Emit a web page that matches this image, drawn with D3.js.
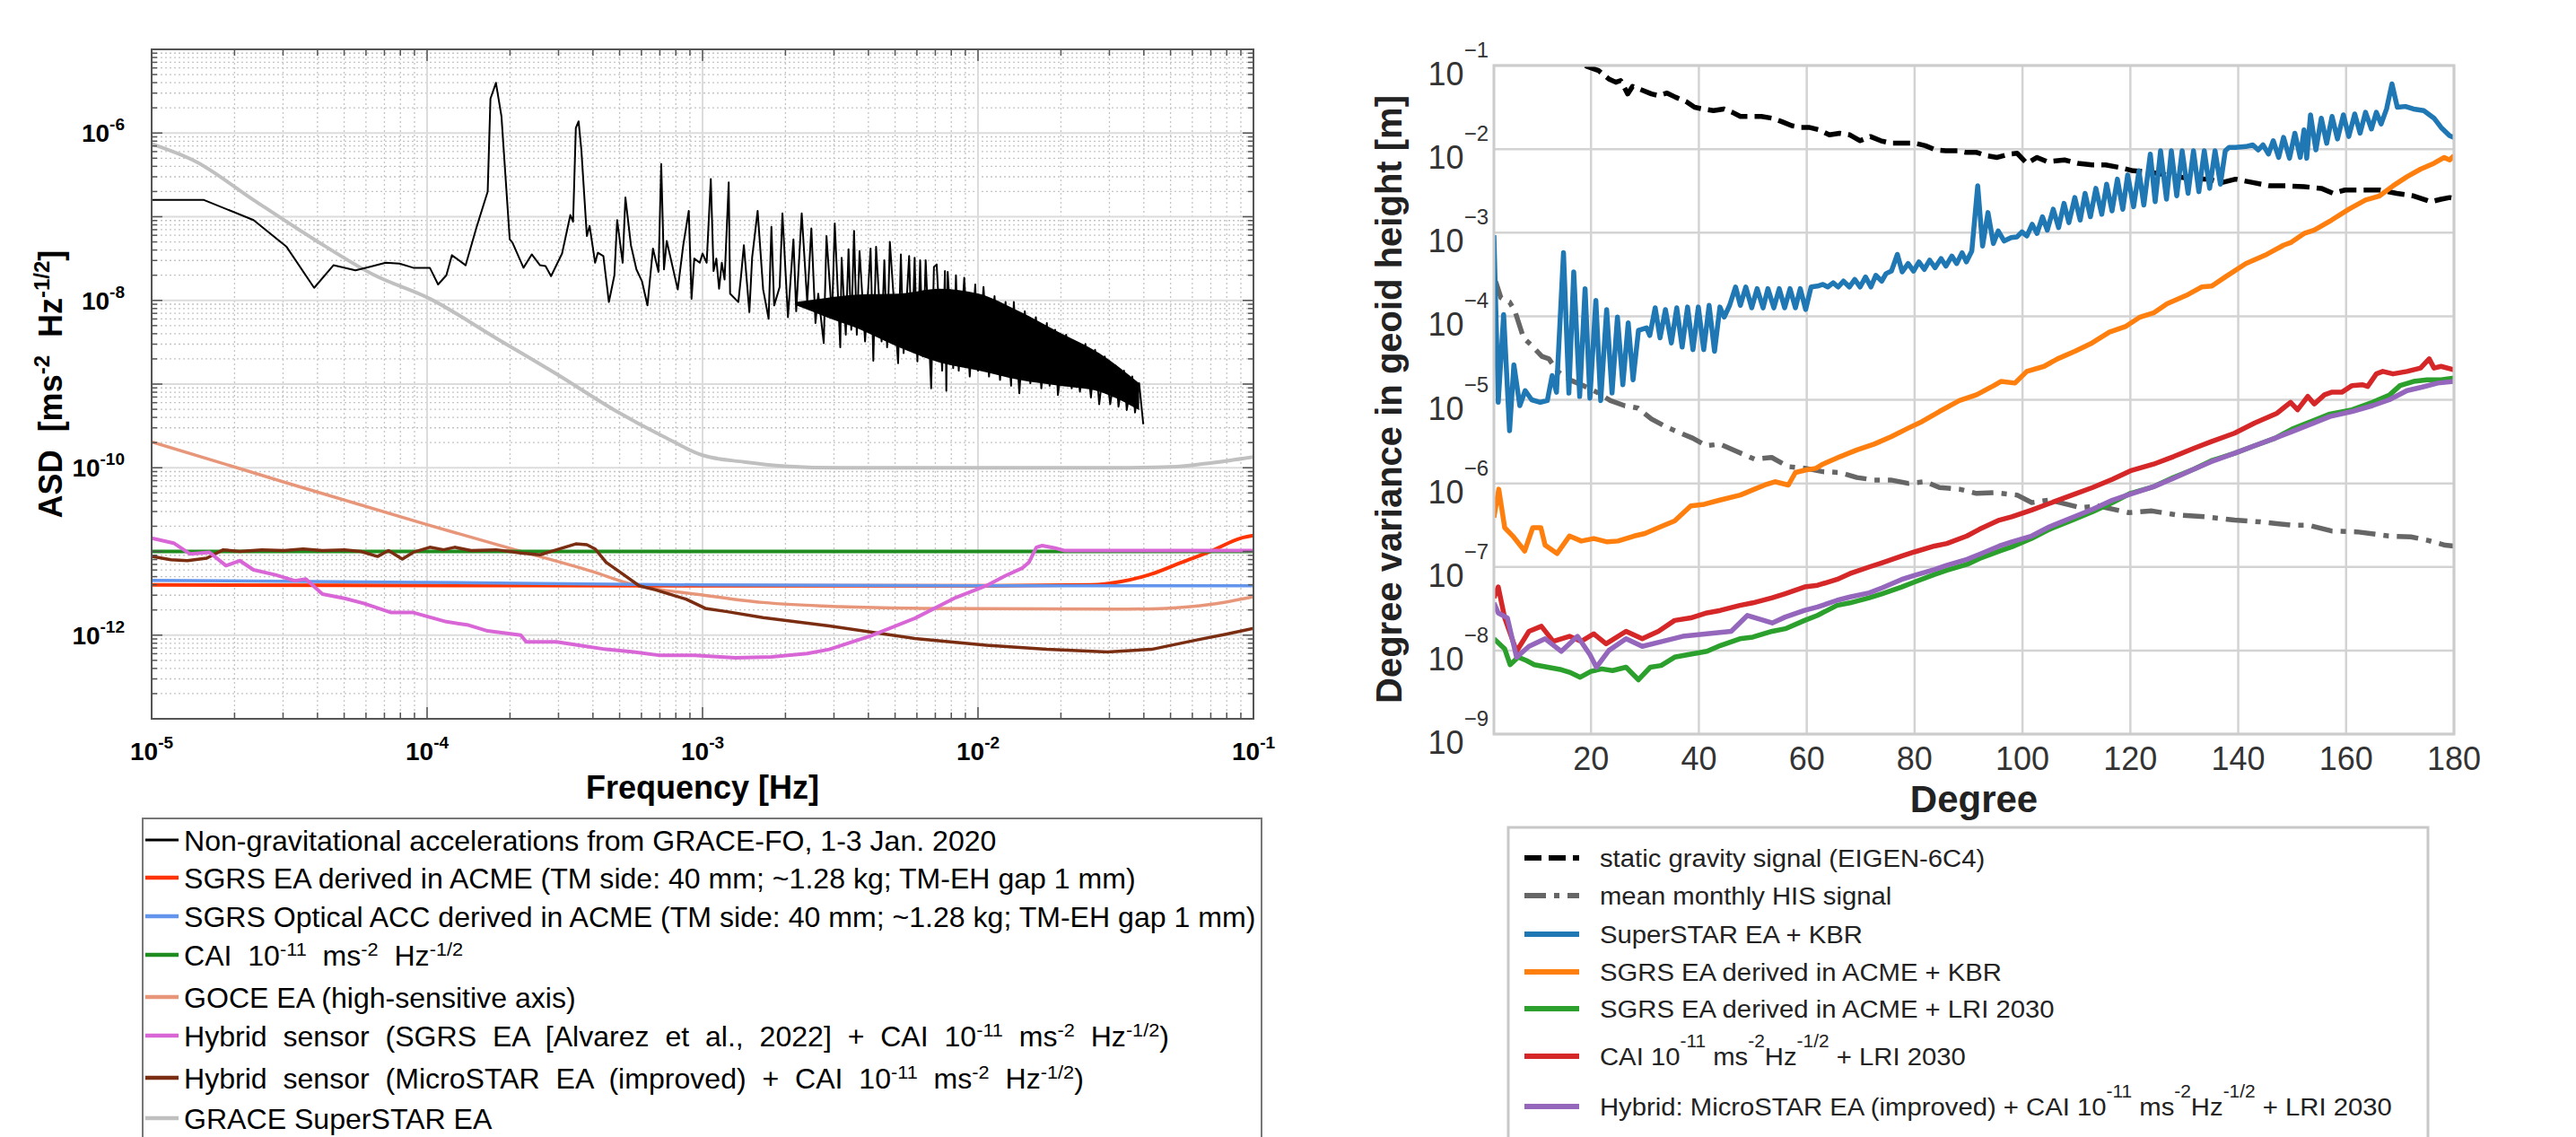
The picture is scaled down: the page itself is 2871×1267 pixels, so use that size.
<!DOCTYPE html>
<html>
<head>
<meta charset="utf-8">
<style>
  body { margin: 0; background: #fff; }
  text { font-family: "Liberation Sans", Arial, sans-serif; white-space: pre; }
</style>
</head>
<body>
<script src="https://cdn.jsdelivr.net/npm/d3@7/dist/d3.min.js"></script>
<script>
// ---------- left panel: [log10 frequency, log10 ASD] ----------
var nonGrav = [[-5.00,-6.80],[-4.81,-6.80],[-4.63,-7.04],[-4.51,-7.36],[-4.41,-7.85],[-4.34,-7.58],[-4.26,-7.64],[-4.21,-7.60],[-4.15,-7.55],[-4.10,-7.56],[-4.05,-7.61],[-3.99,-7.61],[-3.96,-7.81],[-3.93,-7.70],[-3.91,-7.46],[-3.86,-7.58],[-3.82,-7.12],[-3.78,-6.70],[-3.77,-5.59],[-3.75,-5.40],[-3.73,-5.80],[-3.70,-7.27],[-3.69,-7.31],[-3.65,-7.61],[-3.62,-7.45],[-3.59,-7.58],[-3.57,-7.59],[-3.55,-7.71],[-3.51,-7.44],[-3.48,-6.98],[-3.47,-7.06],[-3.46,-5.94],[-3.45,-5.86],[-3.44,-6.20],[-3.42,-7.23],[-3.41,-7.11],[-3.39,-7.55],[-3.38,-7.43],[-3.36,-7.47],[-3.34,-8.02],[-3.32,-7.70],[-3.31,-7.04],[-3.29,-7.55],[-3.28,-6.77],[-3.26,-7.34],[-3.24,-7.63],[-3.22,-7.77],[-3.20,-8.06],[-3.18,-7.38],[-3.16,-7.66],[-3.15,-6.37],[-3.14,-7.63],[-3.13,-7.29],[-3.09,-7.87],[-3.07,-7.34],[-3.05,-6.93],[-3.04,-7.98],[-3.03,-7.50],[-3.01,-7.55],[-3.00,-7.44],[-2.985,-7.55],[-2.97,-6.55],[-2.96,-7.65],[-2.95,-7.50],[-2.94,-7.86],[-2.93,-7.55],[-2.92,-7.75],[-2.905,-6.59],[-2.90,-7.92],[-2.87,-8.02],[-2.86,-7.70],[-2.85,-7.34],[-2.83,-8.14],[-2.82,-7.49],[-2.80,-6.93],[-2.78,-7.87],[-2.76,-8.22],[-2.75,-7.12],[-2.74,-8.06],[-2.72,-7.84],[-2.71,-6.96],[-2.69,-8.20],[-2.67,-7.27],[-2.66,-8.13],[-2.64,-6.96],[-2.62,-8.02],[-2.605,-7.14],[-2.59,-8.27],[-2.58,-7.92],[-2.56,-8.51],[-2.55,-7.23],[-2.53,-8.20],[-2.52,-7.08],[-2.50,-8.56],[-2.495,-7.49],[-2.48,-8.41],[-2.47,-7.39],[-2.46,-8.35],[-2.45,-7.17],[-2.44,-8.41],[-2.43,-7.41],[-2.41,-8.49],[-2.39,-7.38],[-2.38,-8.72],[-2.37,-7.36],[-2.35,-8.49],[-2.34,-7.52],[-2.33,-8.56],[-2.32,-7.30],[-2.29,-8.75],[-2.28,-7.45],[-2.27,-8.63],[-2.25,-7.47],[-2.24,-8.60],[-2.23,-7.49],[-2.22,-8.73],[-2.21,-7.52],[-2.20,-8.67],[-2.19,-7.52],[-2.17,-9.05],[-2.16,-7.60],[-2.15,-7.57],[-2.13,-8.84],[-2.12,-7.65],[-2.115,-9.08],[-2.11,-7.66],[-2.09,-8.81],[-2.08,-7.70],[-2.07,-8.84],[-2.05,-7.73],[-2.03,-8.91],[-2.01,-7.81],[-2.00,-8.84],[-1.98,-7.84],[-1.96,-8.91],[-1.94,-7.95],[-1.92,-8.95],[-1.90,-8.02],[-1.88,-9.02],[-1.87,-8.02],[-1.85,-9.11],[-1.83,-8.13],[-1.81,-8.99],[-1.79,-8.20],[-1.77,-9.05],[-1.75,-8.27],[-1.74,-9.02],[-1.72,-8.35],[-1.71,-9.13],[-1.68,-8.41],[-1.66,-9.05],[-1.65,-8.49],[-1.63,-9.09],[-1.61,-8.52],[-1.59,-9.16],[-1.575,-8.59],[-1.56,-9.24],[-1.54,-8.67],[-1.52,-9.24],[-1.50,-8.78],[-1.49,-9.27],[-1.47,-8.84],[-1.46,-9.31],[-1.44,-8.91],[-1.43,-9.34],[-1.415,-8.99],[-1.40,-9.48]];
// dense part of the GRACE-FO spectrum: [log10 f, upper, lower]
var nonGravBand = [[-2.66,-8.02,-8.06],[-2.55,-7.97,-8.2],[-2.433,-7.93,-8.34],[-2.287,-7.92,-8.56],[-2.142,-7.86,-8.74],[-1.997,-7.92,-8.84],[-1.851,-8.13,-8.95],[-1.706,-8.38,-9.02],[-1.56,-8.63,-9.09],[-1.415,-8.99,-9.31]];
var superStarEA = [[-5.0,-6.13],[-4.84,-6.34],[-4.63,-6.80],[-4.41,-7.27],[-4.19,-7.70],[-3.99,-7.98],[-3.75,-8.45],[-3.53,-8.88],[-3.32,-9.31],[-3.14,-9.63],[-3.0,-9.85],[-2.85,-9.93],[-2.7,-9.98],[-2.5,-10.0],[-2.0,-10.0],[-1.5,-10.0],[-1.3,-9.99],[-1.15,-9.94],[-1.0,-9.87]];
var goceEA = [[-5.0,-9.69],[-4.5,-10.19],[-4.0,-10.68],[-3.68,-10.98],[-3.4,-11.24],[-3.26,-11.39],[-3.0,-11.52],[-2.78,-11.61],[-2.5,-11.66],[-2.2,-11.68],[-1.5,-11.69],[-1.32,-11.68],[-1.15,-11.63],[-1.0,-11.54]];
var caiFlat = [[-5,-11],[-1,-11]];
var sgrsOptical = [[-5,-11.345],[-4,-11.37],[-3,-11.40],[-2,-11.41],[-1,-11.41]];
var sgrsEA = [[-5,-11.40],[-3,-11.41],[-2,-11.41],[-1.59,-11.40],[-1.48,-11.36],[-1.37,-11.27],[-1.26,-11.13],[-1.15,-10.99],[-1.045,-10.84],[-1.0,-10.81]];
var hybridMicro = [[-5.0,-11.06],[-4.93,-11.10],[-4.87,-11.11],[-4.80,-11.08],[-4.74,-10.98],[-4.68,-11.0],[-4.6,-10.98],[-4.52,-10.99],[-4.45,-10.97],[-4.38,-10.99],[-4.30,-10.98],[-4.24,-11.0],[-4.18,-11.06],[-4.14,-10.99],[-4.09,-11.09],[-4.05,-11.01],[-3.99,-10.95],[-3.94,-10.98],[-3.90,-10.95],[-3.84,-10.99],[-3.75,-10.98],[-3.70,-11.0],[-3.66,-11.02],[-3.59,-11.04],[-3.53,-10.98],[-3.46,-10.91],[-3.42,-10.92],[-3.39,-10.97],[-3.35,-11.13],[-3.29,-11.27],[-3.23,-11.41],[-3.17,-11.46],[-3.06,-11.57],[-2.99,-11.68],[-2.91,-11.72],[-2.78,-11.79],[-2.54,-11.89],[-2.23,-12.04],[-1.97,-12.12],[-1.75,-12.17],[-1.53,-12.20],[-1.37,-12.17],[-1.21,-12.06],[-1.10,-11.99],[-1.0,-11.92]];
var hybridSgrs = [[-5.0,-10.84],[-4.92,-10.90],[-4.86,-11.03],[-4.79,-11.01],[-4.73,-11.17],[-4.68,-11.11],[-4.63,-11.22],[-4.55,-11.28],[-4.48,-11.35],[-4.44,-11.33],[-4.38,-11.51],[-4.30,-11.56],[-4.23,-11.62],[-4.13,-11.73],[-4.05,-11.73],[-3.93,-11.84],[-3.85,-11.88],[-3.78,-11.95],[-3.66,-12.0],[-3.64,-12.08],[-3.53,-12.08],[-3.45,-12.12],[-3.35,-12.17],[-3.25,-12.20],[-3.16,-12.24],[-3.03,-12.24],[-2.88,-12.27],[-2.75,-12.26],[-2.62,-12.22],[-2.54,-12.17],[-2.39,-12.01],[-2.23,-11.80],[-2.08,-11.55],[-1.97,-11.41],[-1.90,-11.29],[-1.84,-11.20],[-1.815,-11.13],[-1.788,-10.95],[-1.767,-10.93],[-1.72,-10.96],[-1.685,-10.99],[-1.0,-10.99]];

var leftSeries = [
  {d: superStarEA, c: "#c0c0c0", w: 4, smooth: true},
  {d: nonGrav, c: "#000000", w: 2},
  {d: goceEA, c: "#e8967a", w: 3.5, smooth: true},
  {d: sgrsEA, c: "#ff3300", w: 4, smooth: true},
  {d: sgrsOptical, c: "#6495ed", w: 3.5, smooth: true},
  {d: caiFlat, c: "#1e8c1e", w: 4},
  {d: hybridMicro, c: "#7b2d12", w: 3.5},
  {d: hybridSgrs, c: "#d966d6", w: 4}
];
var leftLegendColors = ["#000000","#ff3300","#6495ed","#1e8c1e","#e8967a","#d966d6","#7b2d12","#c0c0c0"];
var leftLegendLabels = [
  [["Non-gravitational accelerations from GRACE-FO, 1-3 Jan. 2020",0]],
  [["SGRS EA derived in ACME (TM side: 40 mm; ~1.28 kg; TM-EH gap 1 mm)",0]],
  [["SGRS Optical ACC derived in ACME (TM side: 40 mm; ~1.28 kg; TM-EH gap 1 mm)",0]],
  [["CAI  10",0],["-11",1],["  ms",0],["-2",1],["  Hz",0],["-1/2",1]],
  [["GOCE EA (high-sensitive axis)",0]],
  [["Hybrid  sensor  (SGRS  EA  [Alvarez  et  al.,  2022]  +  CAI  10",0],["-11",1],["  ms",0],["-2",1],["  Hz",0],["-1/2",1],[")",0]],
  [["Hybrid  sensor  (MicroSTAR  EA  (improved)  +  CAI  10",0],["-11",1],["  ms",0],["-2",1],["  Hz",0],["-1/2",1],[")",0]],
  [["GRACE SuperSTAR EA",0]]
];

// ---------- right panel: [degree, log10 degree variance] ----------
var staticGravity = [[19,-1.0],[19.2,-1.01],[21.4,-1.06],[23.3,-1.16],[24.6,-1.20],[25.5,-1.18],[26.8,-1.34],[27.7,-1.25],[29.3,-1.29],[31.2,-1.34],[32.5,-1.36],[34.1,-1.33],[35.7,-1.38],[37.6,-1.43],[39.2,-1.50],[40.8,-1.52],[42.7,-1.54],[44.6,-1.52],[46.2,-1.56],[47.7,-1.61],[49.6,-1.61],[51.6,-1.61],[53.5,-1.63],[55.3,-1.67],[57.2,-1.72],[58.8,-1.74],[60.4,-1.74],[62.3,-1.77],[64.2,-1.83],[66.1,-1.81],[68.0,-1.83],[69.9,-1.90],[71.8,-1.85],[73.7,-1.90],[75.6,-1.93],[78.2,-1.93],[80.1,-1.93],[82.0,-1.96],[83.9,-2.01],[85.8,-2.02],[88.0,-2.02],[89.6,-2.04],[91.5,-2.04],[93.4,-2.08],[95.3,-2.10],[97.5,-2.06],[99.0,-2.05],[100.8,-2.17],[102.7,-2.10],[104.6,-2.15],[107.8,-2.13],[110.3,-2.17],[112.9,-2.19],[115.4,-2.19],[118,-2.22],[120.5,-2.26],[123,-2.27],[126.8,-2.31],[130.7,-2.35],[134.5,-2.36],[137,-2.40],[139.5,-2.36],[142.7,-2.40],[145.9,-2.44],[149.1,-2.44],[152.2,-2.45],[155.4,-2.47],[157.6,-2.53],[159.8,-2.49],[163,-2.49],[166.2,-2.49],[169.4,-2.53],[172.5,-2.56],[175.7,-2.63],[177.6,-2.60],[179.2,-2.58],[180,-2.59]];
var hisSignal = [[2,-3.55],[2.4,-3.60],[3.3,-3.78],[4.9,-3.83],[5.9,-3.94],[7.5,-4.26],[9.0,-4.35],[10.9,-4.48],[12.2,-4.51],[13.8,-4.66],[16.0,-4.76],[18.6,-4.83],[21.1,-4.91],[23.6,-5.01],[26.2,-5.07],[28.7,-5.10],[31.2,-5.23],[33.8,-5.32],[36.3,-5.39],[38.9,-5.46],[41.4,-5.55],[43.9,-5.53],[47.1,-5.62],[50.3,-5.71],[53.5,-5.69],[56.6,-5.80],[59.8,-5.82],[63,-5.86],[66.1,-5.87],[69.3,-5.93],[72.5,-5.96],[75.6,-5.96],[78.8,-6.0],[82,-5.98],[84.6,-6.05],[88.3,-6.07],[91.5,-6.12],[94.7,-6.11],[99,-6.14],[101.7,-6.23],[105,-6.20],[110.7,-6.29],[114,-6.27],[119.7,-6.35],[124,-6.33],[128.8,-6.38],[134,-6.40],[139.3,-6.44],[144,-6.46],[149.8,-6.50],[153,-6.50],[157.3,-6.57],[162,-6.58],[167.9,-6.63],[172,-6.64],[175,-6.68],[178.4,-6.74],[180,-6.75]];
var superStarKbr = [[2.0,-3.03],[2.8,-5.03],[3.8,-3.98],[4.9,-5.37],[5.7,-4.58],[6.8,-5.07],[7.8,-4.89],[9.0,-5.0],[10.6,-5.03],[11.9,-5.01],[12.8,-4.71],[13.6,-4.91],[14.9,-3.24],[15.9,-4.92],[16.8,-3.47],[17.9,-4.96],[18.9,-3.67],[19.8,-4.98],[20.9,-3.81],[21.8,-5.01],[22.9,-3.92],[23.9,-4.92],[24.9,-4.01],[25.9,-4.82],[26.9,-4.08],[27.8,-4.76],[28.8,-4.17],[30.3,-4.14],[30.9,-4.23],[31.9,-3.90],[32.8,-4.26],[33.8,-3.92],[34.9,-4.32],[35.9,-3.90],[36.9,-4.37],[37.9,-3.89],[38.9,-4.40],[39.9,-3.89],[40.9,-4.40],[41.9,-3.87],[42.9,-4.42],[43.9,-3.89],[44.7,-4.01],[45.7,-3.87],[46.8,-3.65],[47.7,-3.87],[48.7,-3.65],[49.8,-3.90],[50.8,-3.67],[51.9,-3.90],[52.8,-3.67],[53.9,-3.90],[54.9,-3.67],[55.9,-3.90],[56.9,-3.67],[57.9,-3.90],[58.8,-3.67],[59.8,-3.92],[60.8,-3.65],[62.0,-3.64],[63.0,-3.62],[63.9,-3.65],[64.9,-3.60],[65.8,-3.65],[66.8,-3.58],[67.9,-3.65],[68.9,-3.56],[69.9,-3.65],[70.9,-3.53],[71.9,-3.65],[72.8,-3.51],[73.9,-3.58],[74.7,-3.49],[75.7,-3.46],[76.8,-3.26],[77.7,-3.47],[78.8,-3.37],[79.8,-3.46],[80.8,-3.35],[81.8,-3.44],[82.8,-3.33],[83.8,-3.42],[84.9,-3.31],[85.8,-3.40],[86.9,-3.28],[87.8,-3.37],[88.8,-3.24],[89.6,-3.35],[90.6,-3.22],[91.7,-2.44],[92.6,-3.16],[93.6,-2.76],[94.6,-3.13],[95.5,-2.98],[96.6,-3.10],[97.9,-3.06],[99.0,-3.05],[99.9,-2.99],[100.8,-3.04],[101.8,-2.90],[102.7,-3.01],[103.7,-2.81],[104.6,-2.97],[105.7,-2.72],[106.7,-2.94],[107.7,-2.65],[108.6,-2.88],[109.7,-2.58],[110.7,-2.85],[111.6,-2.53],[112.6,-2.81],[113.6,-2.47],[114.7,-2.78],[115.6,-2.42],[116.6,-2.74],[117.6,-2.36],[118.6,-2.72],[119.5,-2.31],[120.6,-2.69],[121.6,-2.26],[122.5,-2.67],[123.7,-2.06],[124.6,-2.63],[125.6,-2.02],[126.7,-2.60],[127.6,-2.02],[128.6,-2.56],[129.6,-2.02],[130.7,-2.53],[131.7,-2.02],[132.7,-2.51],[133.7,-2.02],[134.7,-2.47],[135.7,-2.02],[136.7,-2.42],[137.6,-2.02],[138.3,-1.98],[139.5,-1.98],[141.4,-1.97],[142.7,-1.95],[143.7,-2.01],[144.6,-1.95],[145.6,-2.06],[146.5,-1.90],[147.5,-2.10],[148.4,-1.86],[149.5,-2.11],[150.5,-1.81],[151.5,-2.10],[152.2,-1.77],[152.7,-2.11],[153.4,-1.59],[154.4,-2.01],[155.4,-1.63],[156.4,-1.93],[157.4,-1.61],[158.4,-1.88],[159.5,-1.59],[160.5,-1.85],[161.6,-1.58],[162.6,-1.81],[163.6,-1.56],[164.7,-1.76],[165.6,-1.56],[166.5,-1.70],[167.5,-1.52],[168.5,-1.22],[169.5,-1.50],[171,-1.49],[172.5,-1.52],[174.4,-1.54],[176.3,-1.63],[177.6,-1.74],[179.2,-1.84],[180,-1.86]];
var sgrsKbr = [[2,-6.41],[2.9,-6.07],[4,-6.53],[5.5,-6.63],[7.7,-6.81],[9.2,-6.53],[10.7,-6.53],[11.5,-6.74],[13.7,-6.84],[16,-6.63],[18.2,-6.69],[20.5,-6.66],[23,-6.70],[25,-6.69],[28,-6.63],[30,-6.60],[32.5,-6.53],[35.5,-6.45],[38.5,-6.27],[41,-6.25],[43.9,-6.20],[47.7,-6.14],[50.3,-6.07],[52.2,-6.02],[54.1,-5.98],[56.6,-6.02],[57.9,-5.87],[59.8,-5.84],[61.7,-5.82],[63,-5.77],[66.2,-5.68],[69.3,-5.60],[72.5,-5.53],[75.7,-5.44],[78.8,-5.34],[81.4,-5.26],[84.6,-5.14],[88.3,-5.01],[91.5,-4.94],[94.7,-4.83],[96,-4.78],[98.6,-4.80],[100.8,-4.66],[104,-4.60],[106.5,-4.51],[109.7,-4.42],[112.9,-4.32],[116.1,-4.19],[119.2,-4.12],[121.8,-4.01],[124.3,-3.96],[126.8,-3.85],[130.7,-3.74],[133.2,-3.65],[135.1,-3.64],[137.6,-3.53],[141.4,-3.37],[145.3,-3.26],[148.4,-3.15],[149.7,-3.12],[152.2,-3.01],[154.1,-2.97],[157.3,-2.85],[160.5,-2.72],[163.6,-2.61],[166.2,-2.56],[168.7,-2.44],[171.3,-2.33],[173.8,-2.24],[176.3,-2.17],[178.2,-2.10],[179.2,-2.13],[180,-2.08]];
var sgrsLri = [[2,-7.86],[3.5,-7.95],[4,-7.98],[5,-8.17],[6.5,-8.08],[8,-8.12],[9.5,-8.17],[12,-8.20],[14.5,-8.23],[16,-8.26],[18,-8.32],[20,-8.25],[22,-8.22],[24,-8.24],[26.5,-8.20],[28.8,-8.35],[31,-8.20],[33,-8.18],[35.5,-8.08],[38,-8.05],[41.5,-8.01],[44,-7.94],[47.6,-7.86],[50,-7.84],[53.6,-7.77],[56,-7.74],[59.6,-7.64],[62,-7.58],[65.6,-7.46],[68,-7.43],[71.6,-7.37],[74,-7.32],[77.6,-7.24],[80,-7.18],[83.7,-7.09],[86,-7.04],[89.7,-6.97],[92,-6.90],[95.7,-6.81],[98,-6.76],[101.7,-6.66],[105,-6.55],[109.2,-6.44],[113,-6.34],[116.7,-6.23],[120,-6.12],[124.3,-6.04],[128,-5.93],[131.8,-5.83],[135,-5.73],[139.3,-5.64],[143,-5.55],[146.8,-5.46],[150,-5.35],[154.3,-5.24],[157,-5.17],[161.1,-5.12],[164.9,-5.03],[168.1,-4.94],[170,-4.83],[172.5,-4.78],[175,-4.76],[177.6,-4.76],[180,-4.74]];
var caiLri = [[2,-7.37],[2.8,-7.24],[4,-7.61],[6.2,-8.01],[8.5,-7.77],[10.8,-7.71],[13,-7.89],[16,-7.83],[18.2,-7.89],[20.5,-7.80],[22.8,-7.92],[26.5,-7.77],[29.5,-7.86],[32.5,-7.77],[35.5,-7.64],[38.5,-7.61],[41.5,-7.55],[44,-7.52],[47.6,-7.46],[50,-7.43],[53.6,-7.37],[56,-7.32],[59.6,-7.24],[62,-7.22],[65.6,-7.15],[68,-7.08],[71.6,-7.0],[74,-6.95],[77.6,-6.87],[80,-6.82],[83.7,-6.75],[86,-6.72],[89.7,-6.63],[92,-6.55],[95.7,-6.44],[98,-6.40],[101.7,-6.32],[105,-6.24],[109.2,-6.14],[113,-6.05],[116.7,-5.95],[120,-5.85],[124.3,-5.77],[128,-5.68],[131.8,-5.58],[135,-5.50],[139.3,-5.40],[143,-5.28],[147.2,-5.16],[149.7,-5.03],[151,-5.12],[152.9,-4.96],[154.1,-5.05],[156,-4.94],[157.3,-4.91],[159.2,-4.91],[161.1,-4.83],[163,-4.82],[164,-4.84],[165.6,-4.69],[166.8,-4.66],[168.7,-4.69],[171.3,-4.66],[173.8,-4.62],[175.4,-4.51],[176.3,-4.62],[177.6,-4.60],[180,-4.64]];
var hybridLri = [[2,-7.43],[2.8,-7.55],[4.5,-7.61],[6.2,-8.08],[8.5,-7.95],[11.5,-7.86],[14.5,-8.01],[17.5,-7.83],[19.8,-8.05],[21,-8.20],[23.3,-8.0],[26.5,-7.86],[29.5,-7.95],[33.3,-7.89],[37,-7.83],[41.5,-7.80],[46,-7.77],[49,-7.58],[53.6,-7.67],[56,-7.60],[59.6,-7.52],[62,-7.48],[65.6,-7.40],[68,-7.36],[71.6,-7.31],[74,-7.25],[77.6,-7.15],[80,-7.10],[83.7,-7.03],[86,-6.98],[89.7,-6.91],[92,-6.85],[95.7,-6.75],[98,-6.70],[101.7,-6.63],[105,-6.52],[109.2,-6.41],[113,-6.31],[116.7,-6.20],[120,-6.13],[124.3,-6.04],[128,-5.94],[131.8,-5.83],[135,-5.74],[139.3,-5.64],[143,-5.55],[146.8,-5.46],[150,-5.38],[154.3,-5.27],[157,-5.20],[161.1,-5.14],[164.9,-5.07],[168,-5.0],[171.3,-4.89],[174,-4.85],[177,-4.80],[180,-4.78]];

var rightSeries = [
  {d: staticGravity, c: "#000000", w: 5.5, dash: "19,8"},
  {d: hisSignal, c: "#666666", w: 5.5, dash: "24,9,6,9"},
  {d: superStarKbr, c: "#1f77b4", w: 5.5},
  {d: sgrsKbr, c: "#ff7f0e", w: 5.5},
  {d: sgrsLri, c: "#2ca02c", w: 5.5},
  {d: caiLri, c: "#d62728", w: 5.5},
  {d: hybridLri, c: "#9467bd", w: 5.5}
];
var rightLegendLabels = [
  [["static gravity signal (EIGEN-6C4)",0]],
  [["mean monthly HIS signal",0]],
  [["SuperSTAR EA + KBR",0]],
  [["SGRS EA derived in ACME + KBR",0]],
  [["SGRS EA derived in ACME + LRI 2030",0]],
  [["CAI 10",0],["-11",1],[" ms",0],["-2",1],["Hz",0],["-1/2",1],[" + LRI 2030",0]],
  [["Hybrid: MicroSTAR EA (improved) + CAI 10",0],["-11",1],[" ms",0],["-2",1],["Hz",0],["-1/2",1],[" + LRI 2030",0]]
];
var rightXTicks = [20,40,60,80,100,120,140,160,180];

function p10(v) { return Math.pow(10, v); }

// append a text made of normal and superscript pieces
function richText(sel, parts, supSize, raise) {
  var prev = 0;
  parts.forEach(function(p) {
    var lift = p[1] ? -raise : 0;
    var t = sel.append("tspan").attr("dy", lift - prev).text(p[0]);
    if (p[1]) t.attr("font-size", supSize);
    prev = lift;
  });
}

var svg = d3.select("body").append("svg").attr("width", 2871).attr("height", 1267);

// ================= LEFT PANEL =================
var L = {left: 169, right: 1397, top: 55, bottom: 801};
var xL = d3.scaleLog().domain([1e-5, 1e-1]).range([L.left, L.right]);
var yL = d3.scaleLog().domain([1e-13, 1e-5]).range([L.bottom, L.top]);

var decX = d3.range(-5, 0), decY = d3.range(-13, -4);
var minorX = [], minorY = [];
decX.slice(0, -1).forEach(function(k) { for (var m = 2; m < 10; m++) minorX.push(m * p10(k)); });
decY.slice(0, -1).forEach(function(k) { for (var m = 2; m < 10; m++) minorY.push(m * p10(k)); });

var gl = svg.append("g");
gl.selectAll(".mgx").data(minorX).enter().append("line")
  .attr("x1", d => xL(d)).attr("x2", d => xL(d)).attr("y1", L.top).attr("y2", L.bottom)
  .attr("stroke", "#c4c4c4").attr("stroke-width", 1.3).attr("stroke-dasharray", "2,3");
gl.selectAll(".mgy").data(minorY).enter().append("line")
  .attr("y1", d => yL(d)).attr("y2", d => yL(d)).attr("x1", L.left).attr("x2", L.right)
  .attr("stroke", "#c4c4c4").attr("stroke-width", 1.3).attr("stroke-dasharray", "2,3");
gl.selectAll(".Mgx").data(decX.map(p10)).enter().append("line")
  .attr("x1", d => xL(d)).attr("x2", d => xL(d)).attr("y1", L.top).attr("y2", L.bottom)
  .attr("stroke", "#dcdcdc").attr("stroke-width", 2);
gl.selectAll(".Mgy").data(decY.map(p10)).enter().append("line")
  .attr("y1", d => yL(d)).attr("y2", d => yL(d)).attr("x1", L.left).attr("x2", L.right)
  .attr("stroke", "#dcdcdc").attr("stroke-width", 2);

svg.append("clipPath").attr("id", "clipL").append("rect")
  .attr("x", L.left).attr("y", L.top).attr("width", L.right - L.left).attr("height", L.bottom - L.top);

var lineL = d3.line().x(d => xL(p10(d[0]))).y(d => yL(p10(d[1])));
var smoothL = d3.line().x(d => xL(p10(d[0]))).y(d => yL(p10(d[1]))).curve(d3.curveMonotoneX);
var plotL = svg.append("g").attr("clip-path", "url(#clipL)");

plotL.append("path").datum(nonGravBand)
  .attr("d", d3.area().x(d => xL(p10(d[0]))).y0(d => yL(p10(d[2]))).y1(d => yL(p10(d[1]))).curve(d3.curveMonotoneX))
  .attr("fill", "#000");
leftSeries.forEach(function(s) {
  plotL.append("path").datum(s.d).attr("d", s.smooth ? smoothL : lineL)
    .attr("fill", "none").attr("stroke", s.c).attr("stroke-width", s.w).attr("stroke-linejoin", "round");
});

// frame + inward ticks on all sides
var fr = svg.append("g").attr("stroke", "#555");
fr.append("rect").attr("x", L.left).attr("y", L.top).attr("width", L.right - L.left).attr("height", L.bottom - L.top)
  .attr("fill", "none").attr("stroke-width", 2);
function ticksX(vals, len) {
  fr.selectAll(null).data(vals).enter().append("line")
    .attr("x1", d => xL(d)).attr("x2", d => xL(d)).attr("y1", L.bottom).attr("y2", L.bottom - len).attr("stroke-width", 1.5);
  fr.selectAll(null).data(vals).enter().append("line")
    .attr("x1", d => xL(d)).attr("x2", d => xL(d)).attr("y1", L.top).attr("y2", L.top + len).attr("stroke-width", 1.5);
}
function ticksY(vals, len) {
  fr.selectAll(null).data(vals).enter().append("line")
    .attr("y1", d => yL(d)).attr("y2", d => yL(d)).attr("x1", L.left).attr("x2", L.left + len).attr("stroke-width", 1.5);
  fr.selectAll(null).data(vals).enter().append("line")
    .attr("y1", d => yL(d)).attr("y2", d => yL(d)).attr("x1", L.right).attr("x2", L.right - len).attr("stroke-width", 1.5);
}
ticksX(minorX, 7); ticksX(decX.map(p10), 13);
ticksY(minorY, 6); ticksY(decY.map(p10), 12);

// tick labels
decX.forEach(function(k) {
  var t = svg.append("text").attr("x", xL(p10(k))).attr("y", 847).attr("text-anchor", "middle")
    .attr("font-size", 28).attr("font-weight", "bold");
  richText(t, [["10",0],[String(k),1]], 19, 13);
});
[-6, -8, -10, -12].forEach(function(k) {
  var t = svg.append("text").attr("x", 139).attr("y", yL(p10(k)) + 10).attr("text-anchor", "end")
    .attr("font-size", 28).attr("font-weight", "bold");
  richText(t, [["10",0],[String(k),1]], 19, 13);
});
svg.append("text").attr("x", 783).attr("y", 890).attr("text-anchor", "middle")
  .attr("font-size", 36).attr("font-weight", "bold").text("Frequency [Hz]");
var yLab = svg.append("text").attr("transform", "translate(69,428) rotate(-90)").attr("text-anchor", "middle")
  .attr("font-size", 36).attr("font-weight", "bold");
richText(yLab, [["ASD  [ms",0],["-2",1],["  Hz",0],["-1/2",1],["]",0]], 24, 14);

// left legend
var legL = svg.append("g");
legL.append("rect").attr("x", 159).attr("y", 912).attr("width", 1247).attr("height", 400)
  .attr("fill", "#fff").attr("stroke", "#777").attr("stroke-width", 2);
var legLBase = [948, 990, 1033, 1076, 1123, 1166, 1213, 1258];
var legLText = legL.append("g");
leftLegendLabels.forEach(function(parts, i) {
  legL.append("line").attr("x1", 162).attr("x2", 199).attr("y1", legLBase[i] - 12).attr("y2", legLBase[i] - 12)
    .attr("stroke", leftLegendColors[i]).attr("stroke-width", i === 0 ? 3 : 4.5);
  var t = legLText.append("text").attr("x", 205).attr("y", legLBase[i]).attr("font-size", 31);
  richText(t, parts, 21, 11);
});
var wOpt = legLText.selectAll("text").nodes()[2].getComputedTextLength();
var sL = 1195 / wOpt;
legLText.attr("transform", "translate(205,0) scale(" + sL + ",1) translate(-205,0)");

// ================= RIGHT PANEL =================
var R = {left: 1665, right: 2735, top: 73, bottom: 818};
var xR = d3.scaleLinear().domain([2, 180]).range([R.left, R.right]);
var yR = d3.scaleLog().domain([1e-9, 1e-1]).range([R.bottom, R.top]);
var decR = d3.range(-9, 0);

var gr = svg.append("g");
gr.selectAll(null).data(rightXTicks).enter().append("line")
  .attr("x1", d => xR(d)).attr("x2", d => xR(d)).attr("y1", R.top).attr("y2", R.bottom)
  .attr("stroke", "#d3d3d3").attr("stroke-width", 2.5);
gr.selectAll(null).data(decR.map(p10)).enter().append("line")
  .attr("y1", d => yR(d)).attr("y2", d => yR(d)).attr("x1", R.left).attr("x2", R.right)
  .attr("stroke", "#d3d3d3").attr("stroke-width", 2.5);

svg.append("clipPath").attr("id", "clipR").append("rect")
  .attr("x", R.left).attr("y", R.top).attr("width", R.right - R.left).attr("height", R.bottom - R.top);
var lineR = d3.line().x(d => xR(d[0])).y(d => yR(p10(d[1])));
var plotR = svg.append("g").attr("clip-path", "url(#clipR)");
rightSeries.forEach(function(s) {
  plotR.append("path").datum(s.d).attr("d", lineR)
    .attr("fill", "none").attr("stroke", s.c).attr("stroke-width", s.w)
    .attr("stroke-linejoin", "round").attr("stroke-dasharray", s.dash || null);
});
svg.append("rect").attr("x", R.left).attr("y", R.top).attr("width", R.right - R.left).attr("height", R.bottom - R.top)
  .attr("fill", "none").attr("stroke", "#cccccc").attr("stroke-width", 3);

rightXTicks.forEach(function(v) {
  svg.append("text").attr("x", xR(v)).attr("y", 858).attr("text-anchor", "middle")
    .attr("font-size", 36).attr("fill", "#333").text(v);
});
decR.forEach(function(k) {
  var t = svg.append("text").attr("x", 1659).attr("y", yR(p10(k)) + 22).attr("text-anchor", "end")
    .attr("font-size", 36).attr("fill", "#333");
  richText(t, [["10",0],["\u2212" + Math.abs(k),1]], 24, 31);
});
svg.append("text").attr("x", 2200).attr("y", 905).attr("text-anchor", "middle")
  .attr("font-size", 42).attr("font-weight", "bold").attr("fill", "#222").text("Degree");
svg.append("text").attr("transform", "translate(1562,445) rotate(-90)").attr("text-anchor", "middle")
  .attr("font-size", 40).attr("font-weight", "bold").attr("fill", "#222").text("Degree variance in geoid height [m]");

// right legend
var legR = svg.append("g");
legR.append("rect").attr("x", 1681).attr("y", 922).attr("width", 1025).attr("height", 400)
  .attr("fill", "#fff").attr("stroke", "#c8c8c8").attr("stroke-width", 3);
var legRY = [956, 998, 1041, 1083, 1124, 1177, 1233];
var legRText = legR.append("g");
rightLegendLabels.forEach(function(parts, i) {
  var s = rightSeries[i];
  legR.append("line").attr("x1", 1699).attr("x2", 1760).attr("y1", legRY[i]).attr("y2", legRY[i])
    .attr("stroke", s.c).attr("stroke-width", 6).attr("stroke-dasharray", s.dash || null);
  var t = legRText.append("text").attr("x", 1783).attr("y", legRY[i] + 10).attr("font-size", 28).attr("fill", "#222");
  richText(t, parts, 20, 20);
});
var wR = legRText.selectAll("text").nodes()[4].getComputedTextLength();
var sR = 507 / wR;
legRText.attr("transform", "translate(1783,0) scale(" + sR + ",1) translate(-1783,0)");
</script>
</body>
</html>
